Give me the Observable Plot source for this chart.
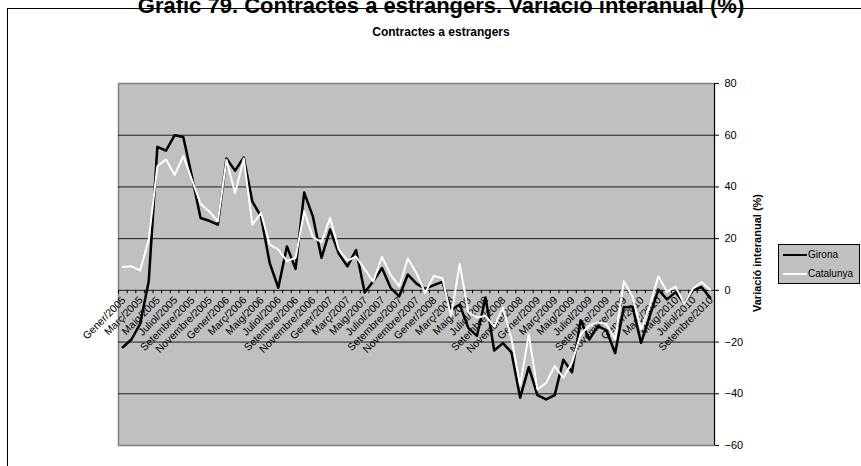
<!DOCTYPE html>
<html><head><meta charset="utf-8">
<script src="https://cdn.jsdelivr.net/npm/d3@7"></script>
<script src="https://cdn.jsdelivr.net/npm/@observablehq/plot@0.6"></script>
<style>
html,body{margin:0;padding:0;background:#fff;overflow:hidden}
#wrap{position:relative;width:861px;height:466px;overflow:hidden;font-family:"Liberation Sans",Arial,sans-serif;color:#000}
#border{position:absolute;left:7px;top:8px;width:900px;height:500px;border:1px solid #000;box-sizing:border-box}
#title{position:absolute;left:0;top:-5px;width:882px;text-align:center;font-weight:bold;font-size:22px;line-height:22px;white-space:nowrap}
#subtitle{position:absolute;left:0;top:25px;width:882px;text-align:center;font-weight:bold;font-size:12px;line-height:14px}
#chart{position:absolute;left:0;top:0}
#ylabel{position:absolute;left:757px;top:253px;transform:translate(-50%,-50%) rotate(-90deg);font-weight:bold;font-size:11px;white-space:nowrap}
#legend{position:absolute;left:778px;top:244px;width:82px;height:40px;background:#c0c0c0;border:1px solid #000;box-sizing:border-box;font-size:10px}
.lg{position:absolute;left:4px;width:24px}
.lt{position:absolute;left:29px;line-height:12px}
</style></head><body>
<div id="wrap">
  <div id="border"></div>
  <div id="title">Gràfic 79. Contractes a estrangers. Variació interanual (%)</div>
  <div id="subtitle">Contractes a estrangers</div>
  <div id="chart"></div>
  <div id="ylabel">Variació interanual (%)</div>
  <div id="legend">
    <div class="lg" style="top:9px;height:0;border-top:2.5px solid #000"></div>
    <div class="lt" style="top:4px">Girona</div>
    <div class="lg" style="top:28px;height:0;border-top:2px solid #fff"></div>
    <div class="lt" style="top:23px">Catalunya</div>
  </div>
</div>
<script>
const monthNames = ["Gener","Febrer","Març","Abril","Maig","Juny","Juliol","Agost","Setembre","Octubre","Novembre","Desembre"];
const years = [2005, 2006, 2007, 2008, 2009, 2010];
const lastYearMonths = 9; // fins a Setembre/2010
const categories = [];
years.forEach(y => monthNames.forEach((m, k) => {
  if (y < 2010 || k < lastYearMonths) categories.push(m + "/" + y);
}));

const girona = [-22,-19,-13,3.5,55.5,54,60,59.3,44,28,26.9,25.4,51,46.3,51.4,34.3,28.6,10.6,1,17,8.3,37.8,28.6,12.6,23.5,14.2,9.3,15.6,-0.8,3.5,8.6,1,-2.3,6.1,2.6,0.6,2,3.3,-7.5,-5.5,-14.5,-17.6,-2.8,-23.3,-20.4,-24,-41.5,-29.7,-40.5,-42.2,-40.5,-26.8,-31.7,-11.6,-19,-13.8,-15.5,-24.3,-6.5,-6.3,-20.3,-10,0.3,-3.5,-0.7,-5.1,0,1.3,-2.9];
const catalunya = [9,9.3,7.7,19.6,48,50.6,44.6,52,42.7,33.5,30.5,26.7,50.5,37.6,51,25.4,29.9,17.7,15.8,11.3,12.6,30.5,20.6,18.6,28,15.8,11.5,13,8.2,3.4,13,6,1.5,12.3,6.6,-1,5.6,4.7,-10,10.2,-8.5,-10.5,-9.9,-14,-6.7,-18.8,-36.7,-17,-38.3,-35.8,-29.3,-33.8,-28,-17,-13.7,-12.4,-13.1,-19,3.5,-2.4,-15.2,-6,5.5,-0.5,1.4,-5.3,0.6,3.2,0.2];
const yTicks = [80, 60, 40, 20, 0, -20, -40, -60];

const data = categories.map((c, i) => ({i, cat: c, girona: girona[i], catalunya: catalunya[i]}));
const tickLabels = data.filter(d => d.i % 2 === 0);
const boundaries = d3.range(categories.length + 1).map(i => i - 0.5);
const n = categories.length;

const chart = Plot.plot({
  width: 861,
  height: 466,
  marginLeft: 118,
  marginRight: 147,
  marginTop: 83,
  marginBottom: 21,
  style: {fontFamily: "Liberation Sans, Arial, sans-serif", fontSize: "11px", background: "transparent", color: "#000", overflow: "visible"},
  x: {domain: [-0.5, n - 0.5], axis: null},
  y: {domain: [-60, 80], axis: null},
  marks: [
    Plot.frame({fill: "#c0c0c0", stroke: "#808080", strokeWidth: 1.5}),
    Plot.ruleY(yTicks.filter(v => v !== 80 && v !== -60), {stroke: "#000", strokeWidth: 1, strokeOpacity: 0.85}),
    Plot.ruleX(boundaries, {y1: 0, y2: -1.3, stroke: "#000", strokeWidth: 1}),
    Plot.text(tickLabels, {x: "i", y: 0, text: "cat", rotate: -45, textAnchor: "end", lineAnchor: "middle", dx: 1, dy: 8, fontSize: 10.5, fill: "#000"}),
    Plot.line(data, {x: "i", y: "girona", stroke: "#000", strokeWidth: 2.5}),
    Plot.line(data, {x: "i", y: "catalunya", stroke: "#fff", strokeWidth: 2}),
    Plot.ruleX([n - 0.5], {stroke: "#000", strokeWidth: 1}),
    Plot.axisY(yTicks, {anchor: "right", tickSize: 4, tickPadding: 6, fontSize: 11, label: null, stroke: "#000"})
  ]
});
document.getElementById("chart").appendChild(chart);
</script>
</body></html>
